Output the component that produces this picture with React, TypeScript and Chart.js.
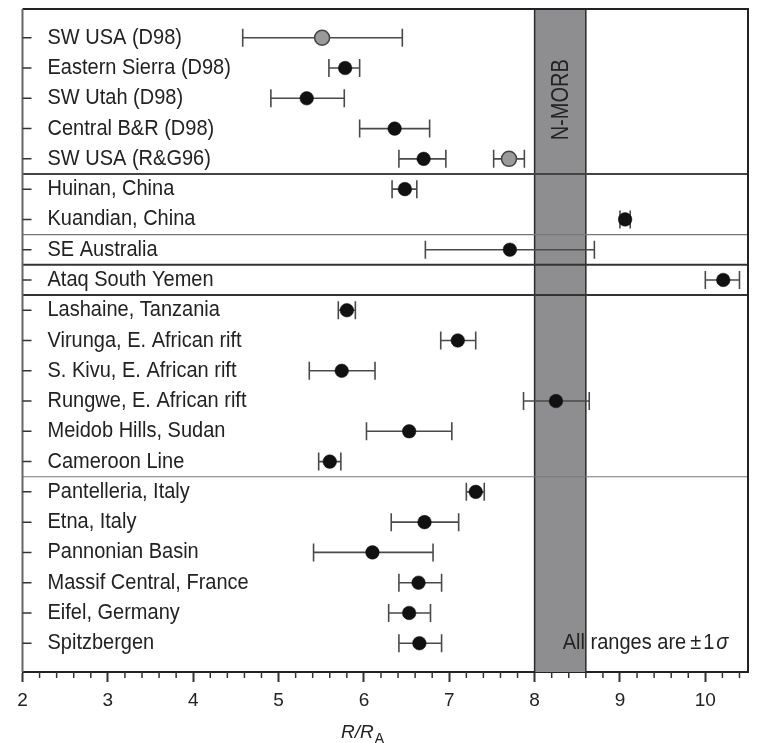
import React, { useEffect, useRef } from "react";
import { Chart, registerables } from "chart.js";

Chart.register(...registerables);

const categories = [
  "SW USA (D98)",
  "Eastern Sierra (D98)",
  "SW Utah (D98)",
  "Central B&R (D98)",
  "SW USA (R&G96)",
  "Huinan, China",
  "Kuandian, China",
  "SE Australia",
  "Ataq South Yemen",
  "Lashaine, Tanzania",
  "Virunga, E. African rift",
  "S. Kivu, E. African rift",
  "Rungwe, E. African rift",
  "Meidob Hills, Sudan",
  "Cameroon Line",
  "Pantelleria, Italy",
  "Etna, Italy",
  "Pannonian Basin",
  "Massif Central, France",
  "Eifel, Germany",
  "Spitzbergen",
];

const blackValues = [null, 5.78, 5.33, 6.36, 6.7, 6.48, 9.06, 7.71, 10.21, 5.8, 7.1, 5.74, 8.25, 6.53, 5.6, 7.31, 6.71, 6.1, 6.64, 6.53, 6.65];
const blackLow = [null, 5.59, 4.91, 5.95, 6.41, 6.33, 9.0, 6.72, 10.0, 5.7, 6.9, 5.36, 7.87, 6.03, 5.47, 7.2, 6.32, 5.41, 6.41, 6.29, 6.41];
const blackHigh = [null, 5.95, 5.77, 6.77, 6.96, 6.62, 9.12, 8.7, 10.4, 5.9, 7.31, 6.13, 8.64, 7.03, 5.73, 7.41, 7.11, 6.81, 6.91, 6.78, 6.91];

const greyValues = [5.51, null, null, null, 7.7, null, null, null, null, null, null, null, null, null, null, null, null, null, null, null, null];
const greyLow = [4.58, null, null, null, 7.52, null, null, null, null, null, null, null, null, null, null, null, null, null, null, null, null];
const greyHigh = [6.45, null, null, null, 7.88, null, null, null, null, null, null, null, null, null, null, null, null, null, null, null, null];

const groupBreaks = [5, 7, 8, 9, 15];
const breakWidths = [2, 1.2, 2, 2, 1.2];
const breakColors = ["#444", "#777", "#333", "#333", "#777"];

const xTicks = [2, 3, 4, 5, 6, 7, 8, 9, 10];
const nMorbRange = [8, 8.6];

const FONT = "'Liberation Sans', Arial, Helvetica, sans-serif";

function toPoints(vals: (number | null)[]) {
  const pts: { x: number; y: number }[] = [];
  vals.forEach((v, i) => {
    if (v !== null) pts.push({ x: v, y: i + 1 });
  });
  return pts;
}
function toRanges(lo: (number | null)[], hi: (number | null)[]) {
  const r: { lo: number; hi: number; y: number }[] = [];
  lo.forEach((v, i) => {
    if (v !== null && hi[i] !== null) r.push({ lo: v, hi: hi[i] as number, y: i + 1 });
  });
  return r;
}

function drawText(ctx: CanvasRenderingContext2D, text: string, x: number, y: number, font: string, align: CanvasTextAlign = "left", sy = 1.1, color = "#222") {
  ctx.save();
  ctx.font = font;
  ctx.fillStyle = color;
  ctx.textAlign = align;
  ctx.textBaseline = "middle";
  ctx.translate(x, y);
  ctx.scale(1, sy);
  ctx.fillText(text, 0, 0);
  ctx.restore();
}

const decorPlugin = {
  id: "decor",
  beforeDatasetsDraw(chart: any) {
    const { ctx, chartArea: a, scales } = chart;
    const xs = scales.x;
    const ys = scales.y;
    const bx0 = xs.getPixelForValue(nMorbRange[0]);
    const bx1 = xs.getPixelForValue(nMorbRange[1]);
    ctx.save();
    ctx.fillStyle = "#8e8e90";
    ctx.fillRect(bx0, a.top, bx1 - bx0, a.bottom - a.top);
    ctx.strokeStyle = "#2a2a2a";
    ctx.lineWidth = 1.5;
    ctx.beginPath();
    ctx.moveTo(bx0, a.top);
    ctx.lineTo(bx0, a.bottom);
    ctx.moveTo(bx1, a.top);
    ctx.lineTo(bx1, a.bottom);
    ctx.stroke();
    ctx.restore();
    ctx.save();
    ctx.translate((bx0 + bx1) / 2 + 1, ys.getPixelForValue(3.05));
    ctx.rotate(-Math.PI / 2);
    ctx.scale(1, 1.2);
    ctx.font = `20px ${FONT}`;
    ctx.fillStyle = "#222";
    ctx.textAlign = "center";
    ctx.textBaseline = "middle";
    ctx.fillText("N-MORB", 0, 0);
    ctx.restore();
    groupBreaks.forEach((b, i) => {
      const y = ys.getPixelForValue(b + 0.5);
      ctx.save();
      ctx.strokeStyle = breakColors[i];
      ctx.lineWidth = breakWidths[i];
      ctx.beginPath();
      ctx.moveTo(a.left, y);
      ctx.lineTo(a.right, y);
      ctx.stroke();
      ctx.restore();
    });
    chart.data.datasets.forEach((ds: any) => {
      (ds.ranges || []).forEach((r: any) => {
        const x0 = xs.getPixelForValue(r.lo);
        const x1 = xs.getPixelForValue(r.hi);
        const y = ys.getPixelForValue(r.y);
        ctx.save();
        ctx.strokeStyle = "#4a4a4a";
        ctx.lineWidth = 1.6;
        ctx.beginPath();
        ctx.moveTo(x0, y);
        ctx.lineTo(x1, y);
        ctx.moveTo(x0, y - 9);
        ctx.lineTo(x0, y + 9);
        ctx.moveTo(x1, y - 9);
        ctx.lineTo(x1, y + 9);
        ctx.stroke();
        ctx.restore();
      });
    });
  },
  afterDraw(chart: any) {
    const { ctx, chartArea: a, scales } = chart;
    const xs = scales.x;
    const ys = scales.y;
    ctx.save();
    ctx.strokeStyle = "#222";
    ctx.lineWidth = 2;
    ctx.beginPath();
    ctx.moveTo(a.left, a.top);
    ctx.lineTo(a.right, a.top);
    ctx.lineTo(a.right, a.bottom);
    ctx.stroke();
    ctx.strokeStyle = "#666";
    ctx.beginPath();
    ctx.moveTo(a.left, a.top);
    ctx.lineTo(a.left, a.bottom);
    ctx.stroke();
    ctx.strokeStyle = "#333";
    ctx.lineWidth = 1.5;
    ctx.beginPath();
    for (let k = 0; k <= 42; k++) {
      const v = 2 + k * 0.2;
      if (Math.abs(v - Math.round(v)) < 1e-6) continue;
      const px = xs.getPixelForValue(v);
      ctx.moveTo(px, a.bottom);
      ctx.lineTo(px, a.bottom + 6);
    }
    ctx.stroke();
    ctx.strokeStyle = "#333";
    ctx.lineWidth = 1.5;
    ctx.beginPath();
    categories.forEach((_, i) => {
      const y = ys.getPixelForValue(i + 1);
      ctx.moveTo(a.left, y);
      ctx.lineTo(a.left + 9, y);
    });
    ctx.stroke();
    ctx.restore();
    categories.forEach((c, i) => {
      drawText(ctx, c, a.left + 25, ys.getPixelForValue(i + 1), `20px ${FONT}`);
    });
    const ny = ys.getPixelForValue(21);
    let nx = xs.getPixelForValue(8.33);
    ctx.save();
    ctx.font = `20px ${FONT}`;
    const w1 = ctx.measureText("All ranges are").width;
    const w2 = ctx.measureText("\u00b1").width;
    const w3 = ctx.measureText("1").width;
    ctx.restore();
    drawText(ctx, "All ranges are", nx, ny, `20px ${FONT}`);
    nx += w1 + 4;
    drawText(ctx, "\u00b1", nx, ny, `20px ${FONT}`);
    nx += w2 + 2;
    drawText(ctx, "1", nx, ny, `20px ${FONT}`);
    nx += w3 + 2;
    drawText(ctx, "\u03c3", nx, ny, `italic 20px ${FONT}`);
    ctx.save();
    ctx.fillStyle = "#222";
    ctx.textBaseline = "alphabetic";
    ctx.textAlign = "left";
    ctx.font = `italic 19px ${FONT}`;
    const tx = xs.getPixelForValue(6) - 23;
    ctx.fillText("R/R", tx, a.bottom + 66);
    const tw = ctx.measureText("R/R").width;
    ctx.font = `14px ${FONT}`;
    ctx.fillText("A", tx + tw + 1, a.bottom + 70.5);
    ctx.restore();
  },
};

export default function App() {
  const ref = useRef<HTMLCanvasElement | null>(null);
  useEffect(() => {
    if (!ref.current) return;
    Chart.defaults.font.family = FONT;
    const chart = new Chart(ref.current, {
      type: "scatter",
      data: {
        datasets: [
          {
            label: "black",
            data: toPoints(blackValues),
            ranges: toRanges(blackLow, blackHigh),
            pointRadius: 6.8,
            pointBackgroundColor: "#111",
            pointBorderColor: "#111",
            pointBorderWidth: 0.5,
          } as any,
          {
            label: "grey",
            data: toPoints(greyValues),
            ranges: toRanges(greyLow, greyHigh),
            pointRadius: 7.5,
            pointBackgroundColor: "#9a9a9a",
            pointBorderColor: "#444",
            pointBorderWidth: 1.5,
          } as any,
        ],
      },
      options: {
        responsive: false,
        animation: false,
        layout: { padding: { left: 22.5, top: 7, right: 3.7, bottom: 0 } },
        plugins: { legend: { display: false }, tooltip: { enabled: false } },
        scales: {
          x: {
            type: "linear",
            min: 2,
            max: 10.5,
            afterFit: (s: any) => {
              s.height = 71;
              s.paddingLeft = 0;
              s.paddingRight = 0;
              s.paddingTop = 0;
              s.paddingBottom = 0;
            },
            afterBuildTicks: (s: any) => {
              s.ticks = xTicks.map((v) => ({ value: v }));
            },
            ticks: {
              includeBounds: false,
              autoSkip: false,
              maxRotation: 0,
              padding: 7,
              color: "#222",
              font: { size: 19, family: FONT },
              callback: (v: any) => String(v),
            },
            grid: {
              drawOnChartArea: false,
              drawTicks: true,
              tickLength: 10,
              tickColor: "#333",
              tickWidth: 2,
            },
            border: { display: true, color: "#222", width: 2 },
          },
          y: {
            type: "linear",
            min: 0.05,
            max: 21.95,
            reverse: true,
            display: false,
          },
        },
      },
      plugins: [decorPlugin],
    } as any);
    return () => chart.destroy();
  }, []);
  return (
    <div style={{ position: "fixed", left: 0, top: 0, width: 757, height: 743, background: "#fff" }}>
      <canvas ref={ref} width={757} height={743} style={{ width: 757, height: 743, display: "block" }} />
    </div>
  );
}
